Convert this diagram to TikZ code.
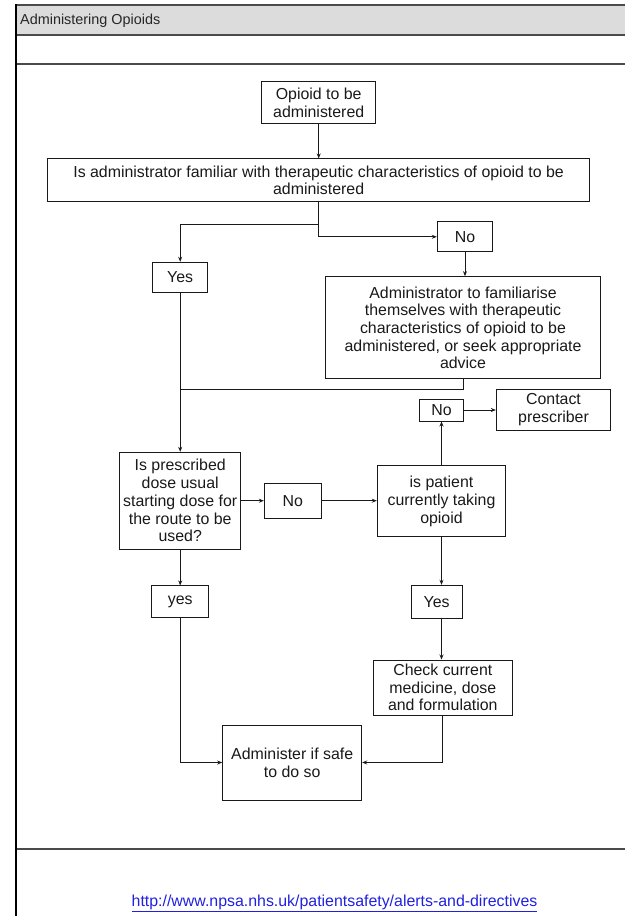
\documentclass[tikz,border=0pt]{standalone}
\usepackage{fontspec}
\setmainfont{Liberation Sans}
\usetikzlibrary{arrows.meta}
\definecolor{framegray}{HTML}{4A4A4A}
\definecolor{bandgray}{HTML}{DCDCDC}
\definecolor{linkblue}{HTML}{2020E0}
\tikzset{
  flowbox/.style={draw=black!90, line width=1pt, align=center, inner sep=0pt,
    font=\fontsize{15.9}{17.7}\selectfont, text=black!90},
  conn/.style={draw=black!90, line width=0.9pt},
  arr/.style={conn, -{Stealth[length=5pt,width=4pt]}},
  frameline/.style={draw=framegray, line width=1.8pt}
}
\begin{document}
\begin{tikzpicture}[x=1pt,y=-1pt]
\useasboundingbox (0,0) rectangle (625,916);
% frame
\fill[bandgray] (16,5) rectangle (625,35);
\draw[frameline] (16,5) -- (625,5);
\draw[frameline] (16,35) -- (625,35);
\draw[frameline] (16,64) -- (625,64);
\draw[frameline] (16,849) -- (625,849);
\draw[draw=black, line width=2.4pt] (16,4) -- (16,916);
\node[anchor=west, inner sep=0pt, font=\fontsize{14.4}{16}\selectfont, text=black!85] (title) at (20,20.5) {Administering Opioids};
\node[inner sep=0pt, font=\fontsize{15.9}{17.7}\selectfont, text=linkblue] (url) at (334.5,903) {\underline{http://www.npsa.nhs.uk/patientsafety/alerts-and-directives}};
% boxes
\node[flowbox, minimum width=114pt, minimum height=41.6pt] (opioid) at (318.7,102.5) {Opioid to be\\administered};
\node[flowbox, minimum width=542.7pt, minimum height=42.7pt] (q1) at (318.6,180.3) {Is administrator familiar with therapeutic characteristics of opioid to be\\administered};
\node[flowbox, minimum width=55pt, minimum height=30pt] (yes1) at (180.2,277.3) {Yes};
\node[flowbox, minimum width=55.4pt, minimum height=30.3pt] (no1) at (465,236.8) {No};
\node[flowbox, minimum width=275pt, minimum height=102.3pt] (admin) at (463,327.8) {Administrator to familiarise\\themselves with therapeutic\\characteristics of opioid to be\\administered, or seek appropriate\\advice};
\node[flowbox, minimum width=43.5pt, minimum height=22pt] (no2) at (441.5,410) {No};
\node[flowbox, minimum width=114.3pt, minimum height=40.7pt] (contact) at (553.5,409.7) {Contact\\prescriber};
\node[flowbox, minimum width=121.4pt, minimum height=96.7pt] (presc) at (180.2,500.7) {Is prescribed\\dose usual\\starting dose for\\the route to be\\used?};
\node[flowbox, minimum width=56.7pt, minimum height=35pt] (no3) at (292.7,500.7) {No};
\node[flowbox, minimum width=128.4pt, minimum height=70.7pt] (patient) at (441.5,501.3) {is patient\\currently taking\\opioid};
\node[flowbox, minimum width=56.6pt, minimum height=31.7pt] (yes2) at (180.2,601.8) {yes};
\node[flowbox, minimum width=51.3pt, minimum height=33pt] (yes3) at (436.7,601.8) {Yes};
\node[flowbox, minimum width=139pt, minimum height=55pt] (check) at (442.8,687.5) {Check current\\medicine, dose\\and formulation};
\node[flowbox, minimum width=139pt, minimum height=75pt] (adm) at (292.2,762.5) {Administer if safe\\to do so};
% connectors
\coordinate (split) at (318.6,224);
\coordinate (join) at (180.2,389);
\draw[arr] (opioid.south) -- (opioid.south |- q1.north);
\draw[arr] (q1.south) -- (split) -| (yes1.north);
\draw[arr] (split) |- (no1.west);
\draw[arr] (no1.south) -- (no1.south |- admin.north);
\draw[arr] (yes1.south) -- (presc.north);
\draw[conn] (admin.south) |- (join);
\draw[arr] (patient.north) -- (patient.north |- no2.south);
\draw[arr] (no2.east) -- (no2.east -| contact.west);
\draw[arr] (presc.east) -- (no3.west);
\draw[arr] (no3.east) -- (no3.east -| patient.west);
\draw[arr] (presc.south) -- (yes2.north);
\draw[arr] (patient.south) -- (patient.south |- yes3.north);
\draw[arr] (patient.south |- yes3.south) -- (patient.south |- check.north);
\draw[arr] (yes2.south) |- (adm.west);
\draw[arr] (check.south) |- (adm.east);
\end{tikzpicture}
\end{document}
